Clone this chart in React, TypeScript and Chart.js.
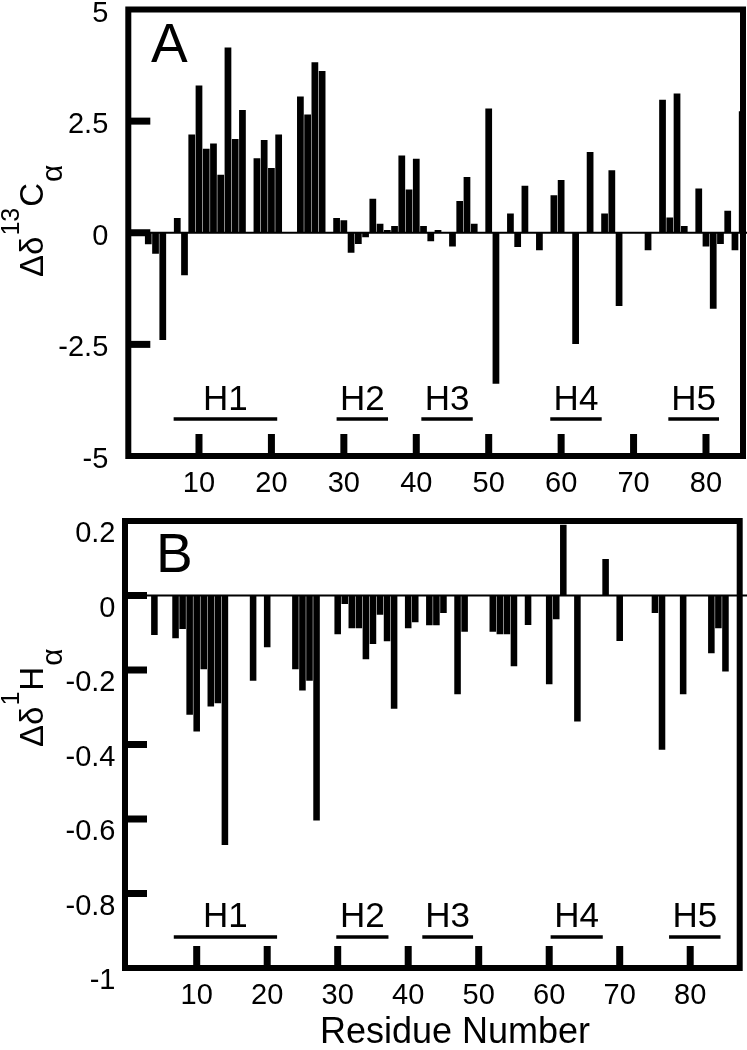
import React, { useEffect, useRef } from "react";
import { Chart, registerables } from "chart.js";

Chart.register(...registerables);

const FONT = '"Liberation Sans", Arial, Helvetica, sans-serif';

// Residue numbers (x categories)
const residues = [
  1, 2, 3, 4, 5, 6, 7, 8, 9, 10, 11, 12, 13, 14, 15, 16, 17, 18, 19, 20,
  21, 22, 23, 24, 25, 26, 27, 28, 29, 30, 31, 32, 33, 34, 35, 36, 37, 38, 39, 40,
  41, 42, 43, 44, 45, 46, 47, 48, 49, 50, 51, 52, 53, 54, 55, 56, 57, 58, 59, 60,
  61, 62, 63, 64, 65, 66, 67, 68, 69, 70, 71, 72, 73, 74, 75, 76, 77, 78, 79, 80,
  81, 82, 83, 84, 85,
];

// Panel A: secondary 13C-alpha chemical shift (ppm)
const deltaCalpha = [
  0, 0, -0.26, -0.47, -2.4, 0, 0.33, -0.95, 2.2, 3.3,
  1.88, 2.0, 1.3, 4.15, 2.1, 2.75, 0, 1.67, 2.08, 1.45,
  2.2, 0, 0, 3.05, 2.65, 3.82, 3.62, 0, 0.33, 0.28,
  -0.45, -0.25, -0.1, 0.76, 0.2, 0.06, 0.15, 1.73, 0.97, 1.66,
  0.15, -0.19, 0.06, 0, -0.31, 0.71, 1.25, 0.2, 0, 2.78,
  -3.38, 0, 0.43, -0.32, 1.05, 0, -0.39, 0, 0.84, 1.18,
  0, -2.49, 0, 1.81, 0, 0.43, 1.4, -1.64, 0, 0,
  0, -0.39, 0, 2.98, 0.34, 3.12, 0.15, 0, 0.99, -0.31,
  -1.7, -0.25, 0.49, -0.39, 2.72,
];

// Panel B: secondary 1H-alpha chemical shift (ppm)
const deltaHalpha = [
  0, 0, 0, -0.106, 0, 0, -0.115, -0.09, -0.32, -0.365,
  -0.198, -0.298, -0.289, -0.67, 0, 0, 0, -0.229, 0, -0.139,
  0, 0, 0, -0.198, -0.255, -0.229, -0.604, 0, 0, -0.104,
  -0.023, -0.088, -0.088, -0.171, -0.13, -0.052, -0.123, -0.304, 0, -0.088,
  -0.072, 0, -0.08, -0.08, -0.047, 0, -0.265, -0.097, 0, 0,
  0, -0.097, -0.104, -0.104, -0.19, 0, -0.079, 0, 0, -0.238,
  -0.064, 0.19, 0, -0.338, 0, 0, 0, 0.098, 0, -0.122,
  0, 0, 0, 0, -0.047, -0.414, 0, 0, -0.265, 0,
  0, 0, -0.155, -0.088, -0.204,
];

const residueTicks = [10, 20, 30, 40, 50, 60, 70, 80];
const residueTickLabels = ["10", "20", "30", "40", "50", "60", "70", "80"];
const calphaTicks = [5, 2.5, 0, -2.5, -5];
const calphaTickLabels = ["5", "2.5", "0", "-2.5", "-5"];
const halphaTicks = [0.2, 0, -0.2, -0.4, -0.6, -0.8, -1];
const halphaTickLabels = ["0.2", "0", "-0.2", "-0.4", "-0.6", "-0.8", "-1"];

// Helix annotations (residue ranges as drawn in each panel)
const helixLabels = ["H1", "H2", "H3", "H4", "H5"];
const helixStartA = [6.5, 29, 40.7, 58.5, 74.8];
const helixEndA = [20.8, 36.1, 47.8, 65.6, 81.8];
const helixStartB = [6.75, 29.8, 42, 60.2, 77];
const helixEndB = [21.4, 37.2, 49.2, 67.6, 84.3];

type TitlePart = { text: string; size: number; dy: number };

type Panel = {
  top: number;
  height: number;
  values: number[];
  yMin: number;
  yMax: number;
  yTicks: number[];
  yLabels: string[];
  xMin: number;
  xMax: number;
  area: { left: number; top: number; right: number; bottom: number };
  yLabelPad: number;
  yLabelOffset: number;
  letter: string;
  letterX: number;
  letterY: number;
  title: TitlePart[];
  titleX: number;
  titleY: number;
  helixStart: number[];
  helixEnd: number[];
  helixTextY: number;
  helixLineY: number;
  xTitle: string | null;
  xTitleX: number;
  xTitleY: number;
};

const W = 747;

const panels: Panel[] = [
  {
    top: 0,
    height: 500,
    values: deltaCalpha,
    yMin: -5,
    yMax: 5,
    yTicks: calphaTicks,
    yLabels: calphaTickLabels,
    xMin: 0.24,
    xMax: 85.11,
    area: { left: 128.3, top: 9.5, right: 743, bottom: 456 },
    yLabelPad: 20,
    yLabelOffset: 4,
    letter: "A",
    letterX: 151,
    letterY: 62,
    title: [
      { text: "Δδ", size: 33, dy: 0 },
      { text: "13", size: 25, dy: -24 },
      { text: "C", size: 33, dy: 0 },
      { text: "α", size: 30, dy: 19 },
    ],
    titleX: 43,
    titleY: 277,
    helixStart: helixStartA,
    helixEnd: helixEndA,
    helixTextY: 410,
    helixLineY: 419,
    xTitle: null,
    xTitleX: 0,
    xTitleY: 0,
  },
  {
    top: 500,
    height: 550,
    values: deltaHalpha,
    yMin: -1,
    yMax: 0.2,
    yTicks: halphaTicks,
    yLabels: halphaTickLabels,
    xMin: -0.17,
    xMax: 87.02,
    area: { left: 125, top: 21, right: 739.7, bottom: 468 },
    yLabelPad: 9.5,
    yLabelOffset: 13,
    letter: "B",
    letterX: 156,
    letterY: 72,
    title: [
      { text: "Δδ", size: 33, dy: 0 },
      { text: "1", size: 25, dy: -24 },
      { text: "H", size: 33, dy: 0 },
      { text: "α", size: 30, dy: 19 },
    ],
    titleX: 43,
    titleY: 247,
    helixStart: helixStartB,
    helixEnd: helixEndB,
    helixTextY: 427,
    helixLineY: 437,
    xTitle: "Residue Number",
    xTitleX: 455,
    xTitleY: 533,
  },
];

function makeDecor(p: Panel) {
  return {
    id: "decor" + p.letter,
    beforeDatasetsDraw(chart: any) {
      const { ctx, chartArea } = chart;
      const y0 = chart.scales.y.getPixelForValue(0);
      ctx.save();
      ctx.fillStyle = "#000";
      ctx.fillRect(chartArea.left, y0 - 1, W - chartArea.left, 2);
      ctx.restore();
    },
    afterDatasetsDraw(chart: any) {
      const { ctx, chartArea } = chart;
      const xs = chart.scales.x;
      const ys = chart.scales.y;
      ctx.save();
      ctx.fillStyle = "#000";
      ctx.strokeStyle = "#000";
      // frame
      ctx.lineWidth = 6;
      ctx.lineJoin = "miter";
      ctx.strokeRect(
        chartArea.left,
        chartArea.top,
        chartArea.right - chartArea.left,
        chartArea.bottom - chartArea.top
      );
      // inner y ticks
      p.yTicks.forEach((v) => {
        if (v === p.yMin || v === p.yMax) return;
        const py = ys.getPixelForValue(v);
        ctx.fillRect(chartArea.left, py - 3.5, 22, 7);
      });
      // inner x ticks
      residueTicks.forEach((v) => {
        const px = xs.getPixelForValue(v);
        ctx.fillRect(px - 3.5, chartArea.bottom - 22, 7, 22);
      });
      // helix annotations
      ctx.lineWidth = 3.5;
      ctx.font = `35px ${FONT}`;
      ctx.textAlign = "center";
      ctx.textBaseline = "alphabetic";
      helixLabels.forEach((lab, i) => {
        const x1 = xs.getPixelForValue(p.helixStart[i]);
        const x2 = xs.getPixelForValue(p.helixEnd[i]);
        ctx.beginPath();
        ctx.moveTo(x1, p.helixLineY);
        ctx.lineTo(x2, p.helixLineY);
        ctx.stroke();
        ctx.fillText(lab, (x1 + x2) / 2, p.helixTextY);
      });
      // panel letter
      ctx.textAlign = "left";
      ctx.font = `55px ${FONT}`;
      ctx.fillText(p.letter, p.letterX, p.letterY);
      // y-axis title with super/subscripts, rotated
      ctx.translate(p.titleX, p.titleY);
      ctx.rotate(-Math.PI / 2);
      let cx = 0;
      p.title.forEach((part) => {
        ctx.font = `${part.size}px ${FONT}`;
        ctx.fillText(part.text, cx, part.dy);
        cx += ctx.measureText(part.text).width + 1;
      });
      ctx.setTransform(1, 0, 0, 1, 0, 0);
      // x-axis title
      if (p.xTitle) {
        ctx.font = `36px ${FONT}`;
        ctx.textAlign = "center";
        ctx.textBaseline = "middle";
        ctx.fillText(p.xTitle, p.xTitleX, p.xTitleY);
      }
      ctx.restore();
    },
  };
}

function PanelChart({ p }: { p: Panel }) {
  const ref = useRef<HTMLCanvasElement | null>(null);
  useEffect(() => {
    if (!ref.current) return;
    const chart = new Chart(ref.current, {
      type: "bar",
      data: {
        datasets: [
          {
            data: residues.map((r, i) => ({ x: r, y: p.values[i] })),
            backgroundColor: "#000",
            borderWidth: 0,
            barPercentage: 0.93,
            categoryPercentage: 1,
          },
        ],
      },
      options: {
        animation: false,
        responsive: false,
        maintainAspectRatio: false,
        devicePixelRatio: 1,
        events: [],
        layout: {
          padding: {
            left: 0,
            top: p.area.top,
            right: W - p.area.right,
            bottom: 0,
          },
        },
        plugins: {
          legend: { display: false },
          tooltip: { enabled: false },
        },
        scales: {
          x: {
            type: "linear",
            min: p.xMin,
            max: p.xMax,
            offset: false,
            grid: { display: false, drawTicks: false },
            border: { display: false },
            afterBuildTicks: (s: any) => {
              s.ticks = residueTicks.map((v) => ({ value: v }));
            },
            afterFit: (s: any) => {
              s.height = p.height - p.area.bottom;
              s.paddingLeft = 0;
              s.paddingRight = 0;
            },
            ticks: {
              autoSkip: false,
              maxRotation: 0,
              minRotation: 0,
              padding: 10.5,
              color: "#000",
              font: { family: FONT, size: 29 },
              callback: (_v: any, i: number) => residueTickLabels[i],
            },
          },
          y: {
            type: "linear",
            min: p.yMin,
            max: p.yMax,
            grid: { display: false, drawTicks: false },
            border: { display: false },
            afterBuildTicks: (s: any) => {
              s.ticks = p.yTicks.map((v) => ({ value: v }));
            },
            afterFit: (s: any) => {
              s.width = p.area.left;
              s.paddingTop = 0;
              s.paddingBottom = 0;
            },
            ticks: {
              autoSkip: false,
              padding: p.yLabelPad,
              labelOffset: p.yLabelOffset,
              color: "#000",
              font: { family: FONT, size: 29 },
              callback: (_v: any, i: number) => p.yLabels[i],
            },
          },
        },
      } as any,
      plugins: [makeDecor(p)],
    });
    return () => chart.destroy();
  }, [p]);
  return (
    <canvas
      ref={ref}
      width={W}
      height={p.height}
      style={{ position: "absolute", left: 0, top: p.top, width: W, height: p.height, display: "block" }}
    />
  );
}

export default function App() {
  return (
    <div
      style={{
        position: "absolute",
        left: 0,
        top: 0,
        width: W,
        height: 1050,
        background: "#fff",
        overflow: "hidden",
      }}
    >
      {panels.map((p) => (
        <PanelChart key={p.letter} p={p} />
      ))}
    </div>
  );
}
